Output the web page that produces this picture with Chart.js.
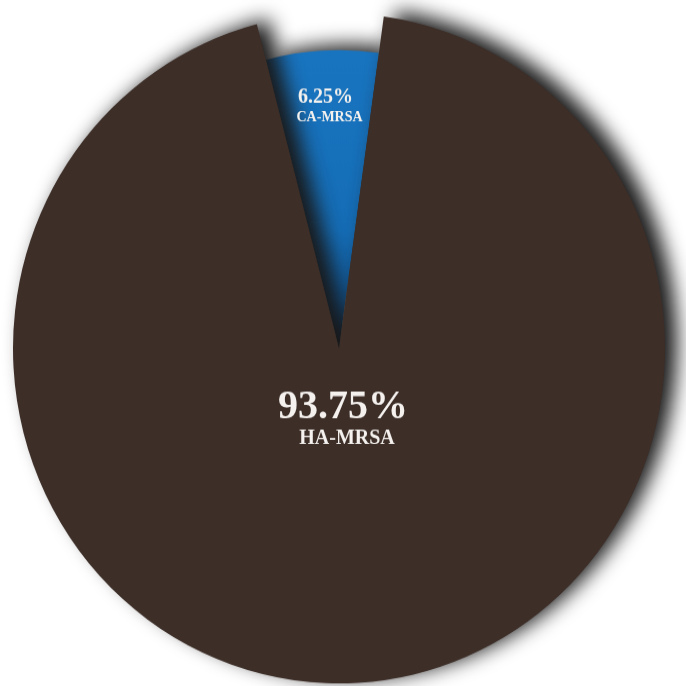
<!DOCTYPE html>
<html>
<head>
<meta charset="utf-8">
<script src="https://cdn.jsdelivr.net/npm/chart.js@4/dist/chart.umd.min.js"></script>
<style>
  html, body { margin: 0; padding: 0; background: #fff; overflow: hidden; }
  /* el pastel original es un poco más alto que ancho */
  #wrap { width: 686px; height: 686px; transform: scale(1, 1.0276); transform-origin: 0 0; }
</style>
</head>
<body>
<div id="wrap"><canvas id="grafica" width="686" height="686"></canvas></div>
<script>
// datos del gráfico
const categorias = ['CA-MRSA', 'HA-MRSA'];
const valores = [6.25, 93.75];
const etiquetasPct = ['6.25%', '93.75%'];

const MARRON = '#3d2e28';

// la porción azul es más corta que la marrón
const radioAzul = 0.89;

function fondoAzul(chart) {
  const area = chart.chartArea;
  if (!area) return '#1670ba';
  const cx = (area.left + area.right) / 2;
  const cy = (area.top + area.bottom) / 2;
  const r = Math.min(area.right - area.left, area.bottom - area.top) / 2;
  const g = chart.ctx.createRadialGradient(cx, cy, 0, cx, cy, r);
  g.addColorStop(0, '#0a3a6c');
  g.addColorStop(0.15, '#10599a');
  g.addColorStop(0.35, '#156db6');
  g.addColorStop(1, '#1a76c2');
  return g;
}

const sombra = {
  id: 'sombra',
  afterUpdate(chart) {
    const arc = chart.getDatasetMeta(0).data[0];
    arc.outerRadius = arc.outerRadius * radioAzul;
  },
  beforeDatasetsDraw(chart) {
    const c = chart.ctx;
    c.save();
    c.shadowColor = 'rgba(25,25,25,1)';
    c.shadowBlur = 20;
    c.shadowOffsetX = 12;
    c.shadowOffsetY = -5;
  },
  afterDatasetsDraw(chart) {
    chart.ctx.restore();
  }
};

const rotulos = {
  id: 'rotulos',
  afterDraw(chart) {
    const c = chart.ctx;
    const meta = chart.getDatasetMeta(0);
    const a0 = meta.data[0], a1 = meta.data[1];
    c.save();
    c.fillStyle = '#f4f1ee';
    c.textAlign = 'center';
    c.textBaseline = 'alphabetic';

    // CA-MRSA dentro de la porción azul
    const mid = (a0.startAngle + a0.endAngle) / 2;
    const d = 230;
    const x0 = a0.x + Math.cos(mid) * d;
    const y0 = a0.y + Math.sin(mid) * d;
    c.font = 'bold 20px "Liberation Serif", "Times New Roman", serif';
    c.fillText(etiquetasPct[0], x0, y0 - 9);
    c.font = 'bold 14px "Liberation Serif", "Times New Roman", serif';
    c.fillText(categorias[0], x0 + 4, y0 + 9);

    // HA-MRSA en el centro
    c.font = 'bold 40px "Liberation Serif", "Times New Roman", serif';
    c.fillText(etiquetasPct[1], a1.x + 4, a1.y + 68);
    c.font = 'bold 20px "Liberation Serif", "Times New Roman", serif';
    c.fillText(categorias[1], a1.x + 8, a1.y + 93);
    c.restore();
  }
};

new Chart(document.getElementById('grafica'), {
  type: 'pie',
  data: {
    labels: categorias,
    datasets: [{
      data: valores,
      backgroundColor: ctx => ctx.dataIndex === 0 ? fondoAzul(ctx.chart) : MARRON,
      borderWidth: 0,
      clip: false
    }]
  },
  options: {
    responsive: false,
    animation: false,
    rotation: -14.6,
    layout: { padding: { left: 13, right: 21, top: 13, bottom: 21 } },
    plugins: {
      legend: { display: false },
      tooltip: { enabled: false }
    }
  },
  plugins: [sombra, rotulos]
});
</script>
</body>
</html>
